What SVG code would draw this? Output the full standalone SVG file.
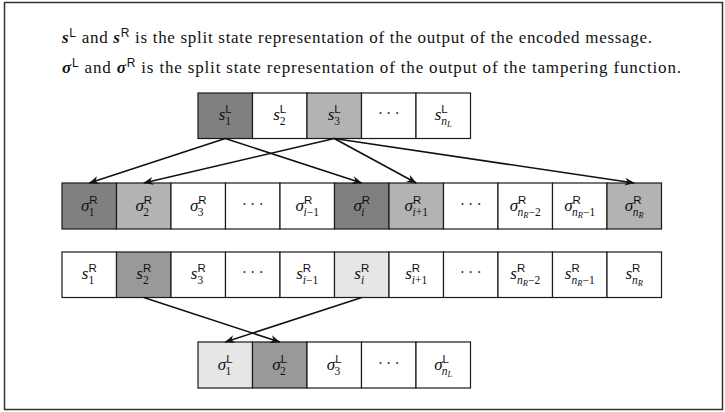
<svg xmlns="http://www.w3.org/2000/svg" width="725" height="412" viewBox="0 0 725 412">
<style>
.frame{fill:#fff;stroke:#333;stroke-width:1.5}
.c{stroke:#1a1a1a;stroke-width:1.2}
.w{fill:#fff}.d{fill:#808080}.l{fill:#b3b3b3}.m2{fill:#999}.vl{fill:#e6e6e6}
.t{font-family:"Liberation Serif","DejaVu Serif",serif;font-size:17px;fill:#111;text-anchor:middle}
.i{font-style:italic}
.sup{font-family:"Liberation Sans","DejaVu Sans",sans-serif;font-size:11.5px;font-style:normal}
.sub{font-family:"Liberation Serif","DejaVu Serif",serif;font-size:11.5px}
.ss{font-size:8.5px;font-style:italic}
.h{font-family:"Liberation Serif","DejaVu Serif",serif;font-size:17px;fill:#111}
.hs{font-family:"Liberation Sans","DejaVu Sans",sans-serif;font-size:12px}
.b{font-weight:bold;font-style:italic}
.dt{font-family:"Liberation Serif","DejaVu Serif",serif;font-size:16px;fill:#333;text-anchor:middle;letter-spacing:3px}
.ar{stroke:#111;stroke-width:1.6;fill:none;marker-end:url(#ah)}
</style>
<defs>
<marker id="ah" viewBox="0 0 10 10" refX="9.5" refY="5" markerWidth="10" markerHeight="10" orient="auto" markerUnits="userSpaceOnUse">
<path d="M0,1 L10,5 L0,9 L3,5 Z" fill="#111"/>
</marker>
</defs>
<rect class="frame" x="4.5" y="2.5" width="718" height="407"/>
<g id="caption">
<text class="h" x="62" y="43" textLength="590" lengthAdjust="spacing"><tspan class="b">s</tspan><tspan class="hs" dy="-6">L</tspan><tspan dy="6"> and </tspan><tspan class="b">s</tspan><tspan class="hs" dy="-6">R</tspan><tspan dy="6"> is the split state representation of the output of the encoded message.</tspan></text>
<text class="h" x="62" y="73" textLength="619" lengthAdjust="spacing"><tspan class="b">σ</tspan><tspan class="hs" dy="-6">L</tspan><tspan dy="6"> and </tspan><tspan class="b">σ</tspan><tspan class="hs" dy="-6">R</tspan><tspan dy="6"> is the split state representation of the output of the tampering function.</tspan></text>
</g>
<g id="row-sL">
<g id="sL1"><rect class="c d" x="198" y="93" width="54.5" height="45.5"/><text class="t" x="225.25" y="120"><tspan class="i">s</tspan><tspan class="sup" dy="-7">L</tspan><tspan class="sub" dx="-6.4" dy="12">1</tspan></text></g>
<g id="sL2"><rect class="c w" x="252.5" y="93" width="54.5" height="45.5"/><text class="t" x="279.75" y="120"><tspan class="i">s</tspan><tspan class="sup" dy="-7">L</tspan><tspan class="sub" dx="-6.4" dy="12">2</tspan></text></g>
<g id="sL3"><rect class="c l" x="307" y="93" width="54.5" height="45.5"/><text class="t" x="334.25" y="120"><tspan class="i">s</tspan><tspan class="sup" dy="-7">L</tspan><tspan class="sub" dx="-6.4" dy="12">3</tspan></text></g>
<g id="sLdots"><rect class="c w" x="361.5" y="93" width="54.5" height="45.5"/><text class="dt" x="390.25" y="119">···</text></g>
<g id="sLn"><rect class="c w" x="416" y="93" width="54.5" height="45.5"/><text class="t" x="443.25" y="120"><tspan class="i">s</tspan><tspan class="sup" dy="-7">L</tspan><tspan class="sub" dx="-6.4" dy="12"><tspan class="i">n</tspan><tspan class="ss" dy="2">L</tspan></tspan></text></g>
</g>
<g id="row-sigmaR">
<g id="sgR1"><rect class="c d" x="62" y="183" width="54.5" height="46"/><text class="t" x="89.25" y="211"><tspan class="i">σ</tspan><tspan class="sup" dy="-7">R</tspan><tspan class="sub" dx="-8.8" dy="12">1</tspan></text></g>
<g id="sgR2"><rect class="c l" x="116.5" y="183" width="54.5" height="46"/><text class="t" x="143.75" y="211"><tspan class="i">σ</tspan><tspan class="sup" dy="-7">R</tspan><tspan class="sub" dx="-8.8" dy="12">2</tspan></text></g>
<g id="sgR3"><rect class="c w" x="171" y="183" width="54.5" height="46"/><text class="t" x="198.25" y="211"><tspan class="i">σ</tspan><tspan class="sup" dy="-7">R</tspan><tspan class="sub" dx="-8.8" dy="12">3</tspan></text></g>
<g id="sgRdots1"><rect class="c w" x="225.5" y="183" width="54.5" height="46"/><text class="dt" x="254.25" y="210">···</text></g>
<g id="sgRim1"><rect class="c w" x="280" y="183" width="54.5" height="46"/><text class="t" x="307.25" y="211"><tspan class="i">σ</tspan><tspan class="sup" dy="-7">R</tspan><tspan class="sub" dx="-8.8" dy="12"><tspan class="i">i</tspan>−1</tspan></text></g>
<g id="sgRi"><rect class="c d" x="334.5" y="183" width="54.5" height="46"/><text class="t" x="361.75" y="211"><tspan class="i">σ</tspan><tspan class="sup" dy="-7">R</tspan><tspan class="sub i" dx="-8.8" dy="12">i</tspan></text></g>
<g id="sgRip1"><rect class="c l" x="389" y="183" width="54.5" height="46"/><text class="t" x="416.25" y="211"><tspan class="i">σ</tspan><tspan class="sup" dy="-7">R</tspan><tspan class="sub" dx="-8.8" dy="12"><tspan class="i">i</tspan>+1</tspan></text></g>
<g id="sgRdots2"><rect class="c w" x="443.5" y="183" width="54.5" height="46"/><text class="dt" x="472.25" y="210">···</text></g>
<g id="sgRnm2"><rect class="c w" x="498" y="183" width="54.5" height="46"/><text class="t" x="525.25" y="211"><tspan class="i">σ</tspan><tspan class="sup" dy="-7">R</tspan><tspan class="sub" dx="-8.8" dy="12"><tspan class="i">n</tspan><tspan class="ss" dy="2">R</tspan><tspan dy="-2">−2</tspan></tspan></text></g>
<g id="sgRnm1"><rect class="c w" x="552.5" y="183" width="54.5" height="46"/><text class="t" x="579.75" y="211"><tspan class="i">σ</tspan><tspan class="sup" dy="-7">R</tspan><tspan class="sub" dx="-8.8" dy="12"><tspan class="i">n</tspan><tspan class="ss" dy="2">R</tspan><tspan dy="-2">−1</tspan></tspan></text></g>
<g id="sgRn"><rect class="c l" x="607" y="183" width="54.5" height="46"/><text class="t" x="634.25" y="211"><tspan class="i">σ</tspan><tspan class="sup" dy="-7">R</tspan><tspan class="sub" dx="-8.8" dy="12"><tspan class="i">n</tspan><tspan class="ss" dy="2">R</tspan></tspan></text></g>
</g>
<g id="row-sR">
<g id="sR1"><rect class="c w" x="62" y="252" width="54.5" height="45.5"/><text class="t" x="89.25" y="279"><tspan class="i">s</tspan><tspan class="sup" dy="-7">R</tspan><tspan class="sub" dx="-8.3" dy="12">1</tspan></text></g>
<g id="sR2"><rect class="c m2" x="116.5" y="252" width="54.5" height="45.5"/><text class="t" x="143.75" y="279"><tspan class="i">s</tspan><tspan class="sup" dy="-7">R</tspan><tspan class="sub" dx="-8.3" dy="12">2</tspan></text></g>
<g id="sR3"><rect class="c w" x="171" y="252" width="54.5" height="45.5"/><text class="t" x="198.25" y="279"><tspan class="i">s</tspan><tspan class="sup" dy="-7">R</tspan><tspan class="sub" dx="-8.3" dy="12">3</tspan></text></g>
<g id="sRdots1"><rect class="c w" x="225.5" y="252" width="54.5" height="45.5"/><text class="dt" x="254.25" y="278">···</text></g>
<g id="sRim1"><rect class="c w" x="280" y="252" width="54.5" height="45.5"/><text class="t" x="307.25" y="279"><tspan class="i">s</tspan><tspan class="sup" dy="-7">R</tspan><tspan class="sub" dx="-8.3" dy="12"><tspan class="i">i</tspan>−1</tspan></text></g>
<g id="sRi"><rect class="c vl" x="334.5" y="252" width="54.5" height="45.5"/><text class="t" x="361.75" y="279"><tspan class="i">s</tspan><tspan class="sup" dy="-7">R</tspan><tspan class="sub i" dx="-8.3" dy="12">i</tspan></text></g>
<g id="sRip1"><rect class="c w" x="389" y="252" width="54.5" height="45.5"/><text class="t" x="416.25" y="279"><tspan class="i">s</tspan><tspan class="sup" dy="-7">R</tspan><tspan class="sub" dx="-8.3" dy="12"><tspan class="i">i</tspan>+1</tspan></text></g>
<g id="sRdots2"><rect class="c w" x="443.5" y="252" width="54.5" height="45.5"/><text class="dt" x="472.25" y="278">···</text></g>
<g id="sRnm2"><rect class="c w" x="498" y="252" width="54.5" height="45.5"/><text class="t" x="525.25" y="279"><tspan class="i">s</tspan><tspan class="sup" dy="-7">R</tspan><tspan class="sub" dx="-8.3" dy="12"><tspan class="i">n</tspan><tspan class="ss" dy="2">R</tspan><tspan dy="-2">−2</tspan></tspan></text></g>
<g id="sRnm1"><rect class="c w" x="552.5" y="252" width="54.5" height="45.5"/><text class="t" x="579.75" y="279"><tspan class="i">s</tspan><tspan class="sup" dy="-7">R</tspan><tspan class="sub" dx="-8.3" dy="12"><tspan class="i">n</tspan><tspan class="ss" dy="2">R</tspan><tspan dy="-2">−1</tspan></tspan></text></g>
<g id="sRn"><rect class="c w" x="607" y="252" width="54.5" height="45.5"/><text class="t" x="634.25" y="279"><tspan class="i">s</tspan><tspan class="sup" dy="-7">R</tspan><tspan class="sub" dx="-8.3" dy="12"><tspan class="i">n</tspan><tspan class="ss" dy="2">R</tspan></tspan></text></g>
</g>
<g id="row-sigmaL">
<g id="sgL1"><rect class="c vl" x="198" y="342" width="54.5" height="46"/><text class="t" x="225.25" y="370"><tspan class="i">σ</tspan><tspan class="sup" dy="-7">L</tspan><tspan class="sub" dx="-7.2" dy="12">1</tspan></text></g>
<g id="sgL2"><rect class="c m2" x="252.5" y="342" width="54.5" height="46"/><text class="t" x="279.75" y="370"><tspan class="i">σ</tspan><tspan class="sup" dy="-7">L</tspan><tspan class="sub" dx="-7.2" dy="12">2</tspan></text></g>
<g id="sgL3"><rect class="c w" x="307" y="342" width="54.5" height="46"/><text class="t" x="334.25" y="370"><tspan class="i">σ</tspan><tspan class="sup" dy="-7">L</tspan><tspan class="sub" dx="-7.2" dy="12">3</tspan></text></g>
<g id="sgLdots"><rect class="c w" x="361.5" y="342" width="54.5" height="46"/><text class="dt" x="390.25" y="369">···</text></g>
<g id="sgLn"><rect class="c w" x="416" y="342" width="54.5" height="46"/><text class="t" x="443.25" y="370"><tspan class="i">σ</tspan><tspan class="sup" dy="-7">L</tspan><tspan class="sub" dx="-7.2" dy="12"><tspan class="i">n</tspan><tspan class="ss" dy="2">L</tspan></tspan></text></g>
</g>
<g id="connectors">
<line class="ar" x1="225.25" y1="138.5" x2="89.25" y2="183"/>
<line class="ar" x1="225.25" y1="138.5" x2="361.75" y2="183"/>
<line class="ar" x1="334.25" y1="138.5" x2="143.75" y2="183"/>
<line class="ar" x1="334.25" y1="138.5" x2="416.25" y2="183"/>
<line class="ar" x1="334.25" y1="138.5" x2="634.25" y2="183"/>
<line class="ar" x1="143.75" y1="297.5" x2="279.75" y2="342"/>
<line class="ar" x1="361.75" y1="297.5" x2="225.25" y2="342"/>
</g>
</svg>
